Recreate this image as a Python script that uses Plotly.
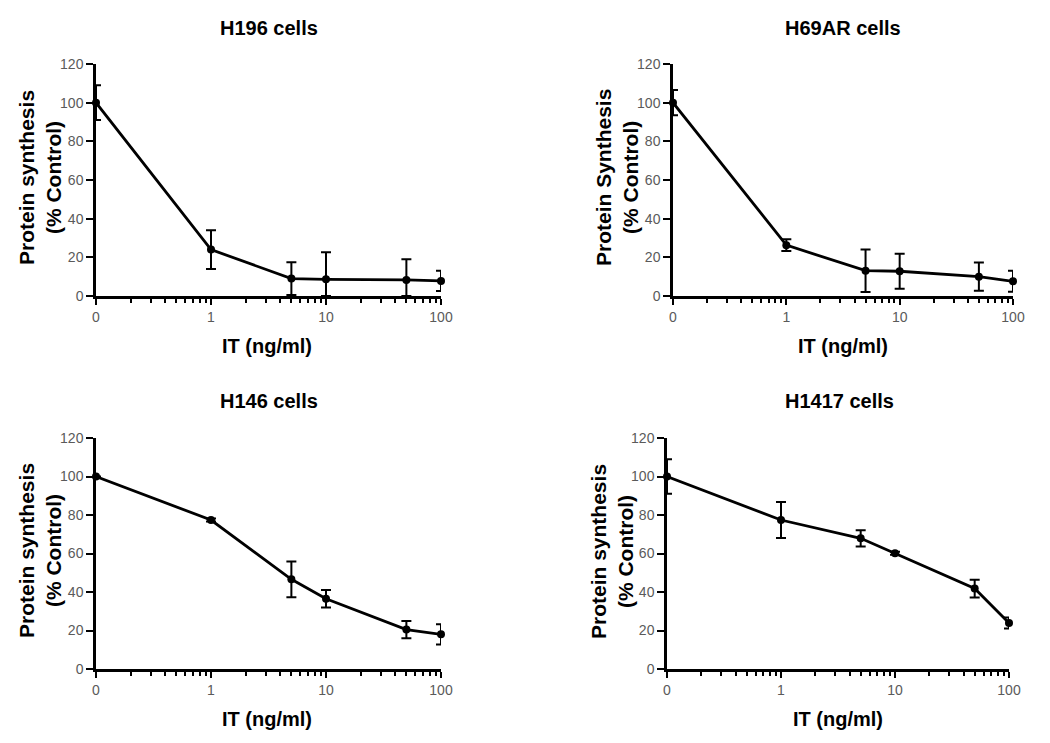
import plotly.graph_objects as go

# ---- data ----
conc = [0, 1, 5, 10, 50, 100]          # IT (ng/ml); 0 is drawn one decade below 1
titles = ["H196 cells", "H69AR cells", "H146 cells", "H1417 cells"]
ytitles = ["Protein synthesis<br>(% Control)", "Protein Synthesis<br>(% Control)",
           "Protein synthesis<br>(% Control)", "Protein synthesis<br>(% Control)"]

h196_y = [100, 24, 9, 8.6, 8.3, 7.8]
h196_e = [9, 10, 8.5, 14, 10.7, 5.2]
h69ar_y = [100, 26.3, 13.1, 12.8, 10, 7.6]
h69ar_e = [6.5, 3, 11, 9, 7.3, 5.4]
h146_y = [100, 77.4, 46.6, 36.5, 20.5, 18]
h146_e = [0, 0.8, 9.3, 4.5, 4.5, 5.3]
h1417_y = [100, 77.4, 67.9, 60.1, 41.8, 23.9]
h1417_e = [9, 9.3, 4.2, 0.8, 4.6, 2.8]

xtick_vals = [0.1, 1, 10, 100]
xtick_text = ["0", "1", "10", "100"]
minor_vals = [0.2, 0.3, 0.4, 0.5, 0.6, 0.7, 0.8, 0.9,
              2, 3, 4, 5, 6, 7, 8, 9,
              20, 30, 40, 50, 60, 70, 80, 90]
ytick_vals = [0, 20, 40, 60, 80, 100, 120]

series = [(h196_y, h196_e), (h69ar_y, h69ar_e), (h146_y, h146_e), (h1417_y, h1417_e)]

# page body margin of the browser (8px) -> figure is drawn smaller and shifted
OFF = 8
W, H = 1050 - 2 * OFF, 743 - 2 * OFF
# target pixel boxes (in screenshot coordinates) of each plot area: (left, right, top, bottom)
boxes = [(96, 441, 64, 296), (673, 1013, 64, 296), (96, 441, 438, 669), (667, 1009, 438, 669)]
title_pos = [(269, 28), (843, 28), (269, 401), (839, 401)]
xt_pos = [(267, 346), (843, 346), (267, 719), (838, 719)]
yt_pos = [(40, 178), (617, 178), (40, 551), (612, 552)]


def px(x):
    return (x - OFF) / W


def py(y):
    return (H - (y - OFF)) / H


FONT = "Liberation Sans, Arial, sans-serif"
fig = go.Figure()

for i, ((yv, ev), (l, r, t, b)) in enumerate(zip(series, boxes)):
    n = i + 1
    xa = "x" if n == 1 else f"x{n}"
    ya = "y" if n == 1 else f"y{n}"
    xplot = [c if c > 0 else 0.1 for c in conc]
    eminus = [min(e, y) for e, y in zip(ev, yv)]
    fig.add_trace(go.Scatter(
        x=xplot, y=yv, xaxis=xa, yaxis=ya, mode="lines+markers",
        line=dict(color="black", width=2.8),
        marker=dict(color="black", size=8),
        error_y=dict(type="data", array=ev, arrayminus=eminus, symmetric=False,
                     color="black", thickness=2, width=5),
        cliponaxis=False, showlegend=False, hoverinfo="skip"))
    fig.layout[f"xaxis{'' if n == 1 else n}"] = dict(
        domain=[px(l), px(r)], anchor=ya, type="log", range=[-1, 2], automargin=False,
        tickmode="array", tickvals=xtick_vals, ticktext=xtick_text,
        ticks="outside", ticklen=6, tickwidth=2, tickcolor="black",
        minor=dict(tickmode="array", tickvals=minor_vals, ticks="outside",
                   ticklen=4, tickwidth=2, tickcolor="black", showgrid=False),
        showline=True, linecolor="black", linewidth=2.5, showgrid=False,
        zeroline=False, tickfont=dict(family=FONT, size=14, color="#5a5a5a"))
    fig.layout[f"yaxis{'' if n == 1 else n}"] = dict(
        domain=[py(b), py(t)], anchor=xa, range=[0, 120], tickmode="array",
        tickvals=ytick_vals, automargin=False,
        ticks="outside", ticklen=7, tickwidth=2, tickcolor="black",
        showline=True, linecolor="black", linewidth=2.5, showgrid=False,
        zeroline=False, tickfont=dict(family=FONT, size=14, color="#5a5a5a"))

    tx, ty = title_pos[i]
    fig.add_annotation(x=px(tx), y=py(ty), xref="paper", yref="paper",
                       text=f"<b>{titles[i]}</b>", showarrow=False,
                       xanchor="center", yanchor="middle",
                       font=dict(family=FONT, size=20, color="black"))
    ax, ay = xt_pos[i]
    fig.add_annotation(x=px(ax), y=py(ay), xref="paper", yref="paper",
                       text="<b>IT (ng/ml)</b>", showarrow=False,
                       xanchor="center", yanchor="middle",
                       font=dict(family=FONT, size=20, color="black"))
    yx, yy = yt_pos[i]
    fig.add_annotation(x=px(yx), y=py(yy), xref="paper", yref="paper",
                       text="<b>" + ytitles[i].replace("<br>", "</b><br><b>") + "</b>",
                       showarrow=False, textangle=-90,
                       xanchor="center", yanchor="middle",
                       font=dict(family=FONT, size=21, color="black"))

fig.update_layout(width=W, height=H, margin=dict(l=0, r=0, t=0, b=0, pad=0, autoexpand=False),
                  paper_bgcolor="white", plot_bgcolor="white",
                  font=dict(family=FONT))

fig.write_html("out.html")
